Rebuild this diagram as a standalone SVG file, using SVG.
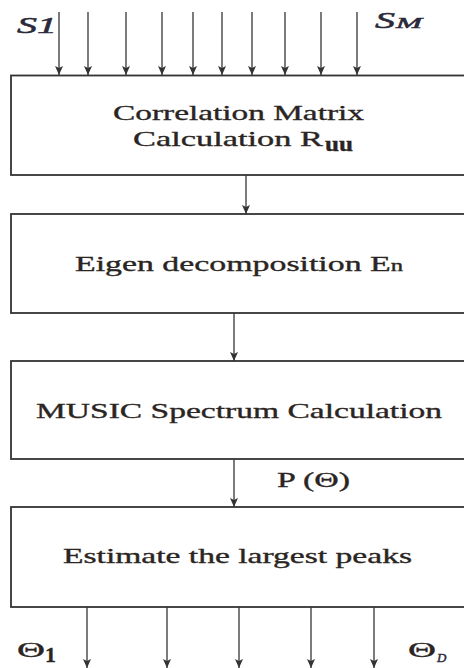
<svg xmlns="http://www.w3.org/2000/svg" width="464" height="668" viewBox="0 0 464 668">
<style>
.box{fill:#fff;stroke:#333;stroke-width:1.8}
.ln{stroke:#444;stroke-width:1.4;fill:none;marker-end:url(#ah)}
.t{font-family:"Liberation Serif","Times New Roman",serif;font-size:22px;fill:#2a2522;stroke:#2a2522;stroke-width:0.35}
.i{font-family:"Liberation Serif","Times New Roman",serif;font-style:italic;fill:#2a2a3a;stroke:#2a2a3a;stroke-width:0.5}
</style>
<defs>
<marker id="ah" markerUnits="userSpaceOnUse" markerWidth="10" markerHeight="8" refX="9" refY="4" orient="auto">
<path d="M0,0 L9,4 L0,8 L2,4 z" fill="#333"/>
</marker>
</defs>
<rect width="464" height="668" fill="#fff"/>
<g id="connectors">
<line class="ln" x1="59" y1="12" x2="59" y2="75"/>
<line class="ln" x1="88" y1="12" x2="88" y2="75"/>
<line class="ln" x1="126" y1="12" x2="126" y2="75"/>
<line class="ln" x1="162" y1="12" x2="162" y2="75"/>
<line class="ln" x1="193" y1="12" x2="193" y2="75"/>
<line class="ln" x1="222" y1="12" x2="222" y2="75"/>
<line class="ln" x1="252" y1="12" x2="252" y2="75"/>
<line class="ln" x1="285" y1="12" x2="285" y2="75"/>
<line class="ln" x1="321" y1="12" x2="321" y2="75"/>
<line class="ln" x1="357" y1="12" x2="357" y2="75"/>
<line class="ln" x1="246" y1="175" x2="246" y2="214"/>
<line class="ln" x1="234" y1="313" x2="234" y2="361"/>
<line class="ln" x1="234" y1="459" x2="234" y2="507"/>
<line class="ln" x1="87" y1="607" x2="87" y2="668"/>
<line class="ln" x1="167" y1="607" x2="167" y2="668"/>
<line class="ln" x1="239" y1="607" x2="239" y2="668"/>
<line class="ln" x1="311" y1="607" x2="311" y2="668"/>
<line class="ln" x1="374" y1="607" x2="374" y2="668"/>
</g>
<g id="node-correlation">
<rect class="box" x="11" y="75.5" width="480" height="99.5"/>
<text class="t" x="113" y="120" textLength="251" lengthAdjust="spacingAndGlyphs">Correlation Matrix</text>
<text class="t" x="133" y="146" textLength="190" lengthAdjust="spacingAndGlyphs">Calculation R</text>
<text class="t" x="325" y="151" font-size="15" font-weight="bold" textLength="28" lengthAdjust="spacingAndGlyphs">uu</text>
</g>
<g id="node-eigen">
<rect class="box" x="11" y="214" width="480" height="99"/>
<text class="t" x="75" y="271" textLength="328" lengthAdjust="spacingAndGlyphs">Eigen decomposition E<tspan font-size="16">n</tspan></text>
</g>
<g id="node-music">
<rect class="box" x="11" y="361" width="480" height="98"/>
<text class="t" x="36" y="418" textLength="406" lengthAdjust="spacingAndGlyphs">MUSIC Spectrum Calculation</text>
</g>
<g id="node-estimate">
<rect class="box" x="11" y="507" width="480" height="100"/>
<text class="t" x="63" y="563" textLength="349" lengthAdjust="spacingAndGlyphs">Estimate the largest peaks</text>
</g>
<g id="labels">
<text class="t" x="277" y="487" textLength="73" lengthAdjust="spacingAndGlyphs">P (Θ)</text>
<text class="i" x="17" y="33" font-size="23" textLength="40" lengthAdjust="spacingAndGlyphs">S1</text>
<text class="i" x="375" y="28" font-size="23" textLength="20" lengthAdjust="spacingAndGlyphs">S</text>
<text class="i" x="396" y="28" font-size="15" textLength="26" lengthAdjust="spacingAndGlyphs">M</text>
<text class="t" x="17" y="657" textLength="28" lengthAdjust="spacingAndGlyphs">Θ</text>
<text class="t" x="45" y="662" font-size="13" font-weight="bold" fill="#4a2a7a">1</text>
<text class="t" x="408" y="657" textLength="28" lengthAdjust="spacingAndGlyphs">Θ</text>
<text class="i" x="437" y="662" font-size="13">D</text>
</g>
</svg>
